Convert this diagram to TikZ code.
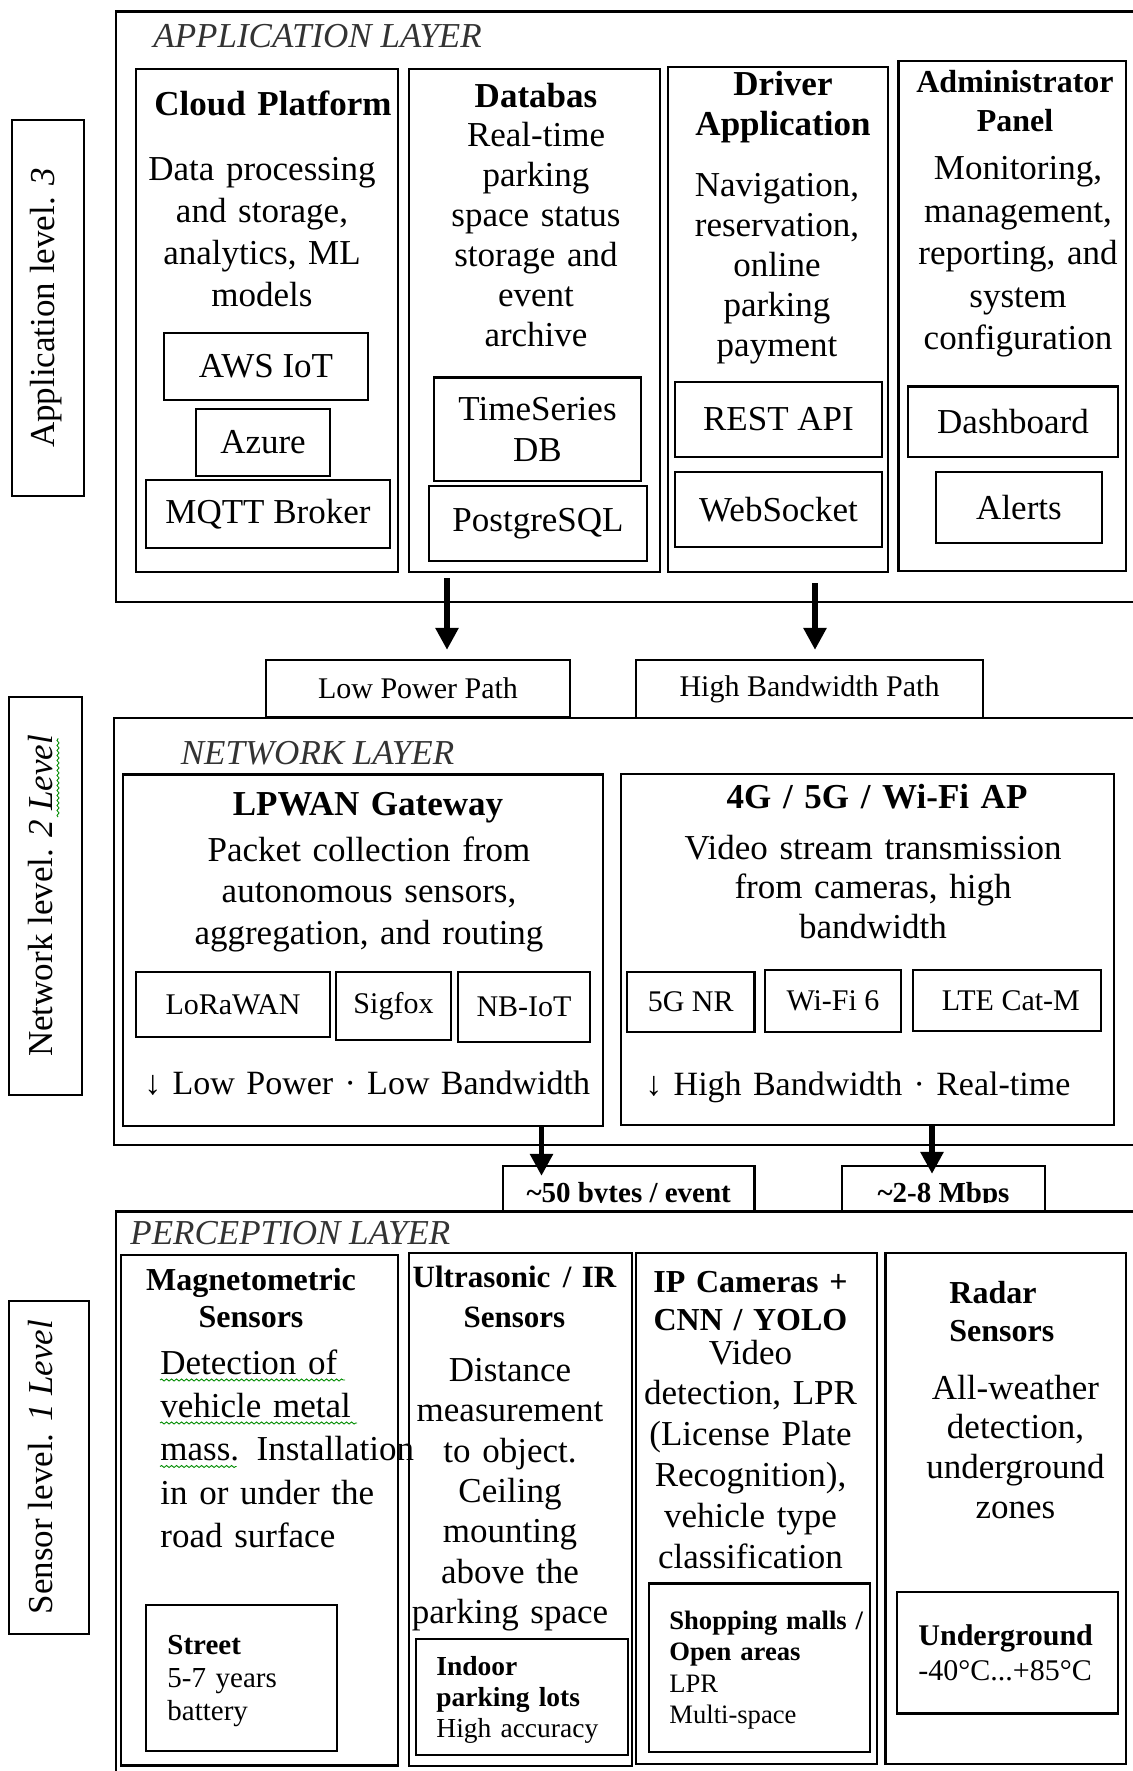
\documentclass[tikz,border=0pt]{standalone}
\usepackage{fontspec}
\setmainfont{Liberation Serif}
\usetikzlibrary{fit,calc,arrows.meta,decorations.pathmorphing}
\begin{document}
\begin{tikzpicture}[x=0.5pt,y=-0.5pt,
  boxst/.style={draw, line width=1.1pt, inner sep=0pt},
  fsz/.style 2 args={font=\fontsize{#1}{#2}\selectfont},
  fszb/.style 2 args={font=\fontsize{#1}{#2}\selectfont\bfseries},
  itxt/.style={inner sep=0pt, anchor=center, fsz={17.5pt}{20.5pt}},
  stxt/.style={inner sep=0pt, anchor=center, fsz={15pt}{17pt}},
  tb/.style={inner sep=0pt, anchor=base, align=center, text width=260pt},
  tl/.style={inner sep=0pt, anchor=base west, align=left, text width=300pt},
  layer/.style={inner sep=0pt, anchor=base west, text=black!80, font=\fontsize{17.5pt}{20pt}\selectfont\itshape},
  lbltxt/.style={inner sep=0pt, fsz={17.5pt}{20pt}},
  bigarr/.style={line width=2.9pt, -{Triangle[width=11pt,length=11pt]}},
  wavy/.style={draw=green!55!black, line width=0.45pt, decorate, decoration={snake, amplitude=0.5pt, segment length=2.5pt}}
]
\useasboundingbox (0,0) rectangle (1132,1771);
\fill[white] (0,0) rectangle (1132,1771);

% ================= APPLICATION LAYER =================
\node[boxst, fit={(116,11.5) (1145,602)}] (applayer) {};
\node[layer] (apptitle) at (153,48) {APPLICATION LAYER};
\node[boxst, fit={(12,120) (84,496)}] (applbl) {};
\node[rotate=90, lbltxt] (applbltxt) at (46,308) {Application level. \textit{3}};

% Cloud platform
\node[boxst, fit={(136,69) (398,572)}] (cloud) {};
\node[tb, fszb={17.5pt}{20pt}] (cloudt) at (273,116) {Cloud Platform};
\node[tb, fsz={17.5pt}{21pt}] (cloudb) at (262,181) {Data processing\\and storage,\\analytics, ML\\models};
\node[boxst, fit={(164,333) (368,400)}] (aws) {};
\node[itxt] (awst) at (aws.center) {AWS IoT};
\node[boxst, fit={(196,409) (330,476)}] (azure) {};
\node[itxt] (azuret) at (azure.center) {Azure};
\node[boxst, fit={(146,480) (390,548)}] (mqtt) {};
\node[itxt] (mqttt) at (mqtt.center) {MQTT Broker};

% Database
\node[boxst, fit={(409,69) (660,572)}] (db) {};
\node[tb, fszb={17.5pt}{20pt}] (dbt) at (536,108) {Databas};
\node[tb, fsz={17.5pt}{20pt}] (dbb) at (536,147) {Real-time\\parking\\space status\\storage and\\event\\archive};
\node[boxst, fit={(434,377.5) (641,481)}] (tsdb) {};
\node[tb, fsz={17.5pt}{20.5pt}] (tsdbt) at (537.5,420) {TimeSeries\\DB};
\node[boxst, fit={(429,486) (647,561)}] (pg) {};
\node[itxt] (pgt) at (pg.center) {PostgreSQL};

% Driver application
\node[boxst, fit={(668,67) (888,572)}] (drv) {};
\node[tb, fszb={17.5pt}{20pt}] (drvt) at (783,96) {Driver\\Application};
\node[tb, fsz={17.5pt}{20pt}] (drvb) at (777,197) {Navigation,\\reservation,\\online\\parking\\payment};
\node[boxst, fit={(675,382) (882,457)}] (rest) {};
\node[itxt] (restt) at (rest.center) {REST API};
\node[boxst, fit={(675,472) (882,547)}] (wsock) {};
\node[itxt] (wsockt) at (wsock.center) {WebSocket};

% Administrator panel
\node[boxst, fit={(898.5,61) (1125.6,571)}] (adm) {};
\node[tb, fszb={16pt}{19.5pt}] (admt) at (1015,93) {Administrator\\Panel};
\node[tb, fsz={17.5pt}{21.25pt}] (admb) at (1018,180) {Monitoring,\\management,\\reporting, and\\system\\configuration};
\node[boxst, fit={(908,386.5) (1118,457)}] (dash) {};
\node[itxt] (dasht) at (dash.center) {Dashboard};
\node[boxst, fit={(936,472) (1102,543)}] (alerts) {};
\node[itxt] (alertst) at (alerts.center) {Alerts};

% ================= PATH LABELS =================
\node[boxst, fit={(266,660) (570,717)}] (lpp) {};
\node[stxt] (lppt) at (lpp.center) {Low Power Path};
\node[boxst, fit={(636,660) (983,718)}] (hbp) {};
\node[stxt] (hbpt) at (hbp.center) {High Bandwidth Path};

% ================= NETWORK LAYER =================
\node[boxst, fit={(114,718) (1145,1145)}] (netlayer) {};
\node[layer] (nettitle) at (180.5,764) {NETWORK LAYER};
\node[boxst, fit={(9,697) (82,1095)}] (netlbl) {};
\node[rotate=90, lbltxt] (netlbltxt) at (41,896) {Network level. \textit{2 Level}};
\draw[wavy] (58,817) -- (58,738);

% LPWAN gateway
\node[boxst, fit={(123,774.5) (603,1125.6)}] (lpwan) {};
\node[tb, fszb={17.5pt}{20pt}] (lpwant) at (368,815) {LPWAN Gateway};
\node[tb, fsz={17.5pt}{20.75pt}] (lpwanb) at (369,861) {Packet collection from\\autonomous sensors,\\aggregation, and routing};
\node[boxst, fit={(136,972) (330,1037)}] (lora) {};
\node[stxt] (lorat) at (lora.center) {LoRaWAN};
\node[boxst, fit={(336,972) (451,1040)}] (sigfox) {};
\node[stxt] (sigfoxt) at (sigfox.center) {Sigfox};
\node[boxst, fit={(458,972) (590,1042)}] (nbiot) {};
\node[stxt] (nbiott) at (nbiot.center) {NB-IoT};
\node[tl, fsz={17pt}{20pt}] (lpwanf) at (144,1094) {↓ Low Power · Low Bandwidth};

% 4G / 5G / Wi-Fi
\node[boxst, fit={(621,774) (1114,1125)}] (gfour) {};
\node[tb, fszb={17.5pt}{20pt}] (gfourt) at (877,808.5) {4G / 5G / Wi-Fi AP};
\node[tb, fsz={17.5pt}{19.75pt}] (gfourb) at (873,859) {Video stream transmission\\from cameras, high\\bandwidth};
\node[boxst, fit={(627,972) (754.5,1032)}] (nr) {};
\node[stxt] (nrt) at (nr.center) {5G NR};
\node[boxst, fit={(765,970) (901,1032)}] (wifi) {};
\node[stxt] (wifit) at (wifi.center) {Wi-Fi 6};
\node[boxst, fit={(912.6,970) (1101,1031)}] (lte) {};
\node[stxt] (ltet) at ($(lte.center)+(4,0)$) {LTE Cat-M};
\node[tl, fsz={17pt}{20pt}] (gfourf) at (645,1095) {↓ High Bandwidth · Real-time};

% ================= RATE LABELS =================
\node[boxst, fit={(503,1166) (754.5,1211.5)}] (rateone) {};
\node[boxst, fit={(842,1166) (1045,1211.5)}] (ratetwo) {};
\begin{scope}
  \clip (503,1166) rectangle (754.5,1202.5);
  \node[inner sep=0pt, anchor=base, fszb={14.5pt}{16pt}] (rateonet) at (628.7,1202) {\textasciitilde 50 bytes / event};
\end{scope}
\begin{scope}
  \clip (842,1166) rectangle (1045,1202.5);
  \node[inner sep=0pt, anchor=base, fszb={14.5pt}{16pt}] (ratetwot) at (943.5,1202) {\textasciitilde 2-8 Mbps};
\end{scope}

% ================= ARROWS =================
\coordinate (axa) at (447,0);
\coordinate (axb) at (815,0);
\coordinate (axc) at (541.5,0);
\coordinate (axd) at (932,0);
\draw[bigarr] ($(db.south -| axa)+(0,5)$) -- ($(lpp.north -| axa)+(0,-9)$);
\draw[bigarr] ($(drv.south -| axb)+(0,10)$) -- ($(hbp.north -| axb)+(0,-9)$);
\draw[bigarr] (lpwan.south -| axc) -- ($(rateone.north -| axc)+(0,11)$);
\draw[bigarr] (gfour.south -| axd) -- ($(ratetwo.north -| axd)+(0,9)$);

% ================= PERCEPTION LAYER =================
\node[boxst, fit={(116,1211.5) (1145,1790)}] (perclayer) {};
\node[layer] (perctitle) at (130,1244) {PERCEPTION LAYER};
\node[boxst, fit={(9,1301) (89,1634)}] (senlbl) {};
\node[rotate=90, lbltxt] (senlbltxt) at (41,1467) {Sensor level. \textit{1 Level}};

% Magnetometric
\node[boxst, fit={(121,1255) (398,1765.4)}] (mag) {};
\node[tb, fszb={16pt}{18.5pt}] (magt) at (251,1290) {Magnetometric\\Sensors};
\node[tl, fsz={17.5pt}{21.7pt}] (magb) at (160,1374) {Detection of\\vehicle metal\\mass. Installation\\in or under the\\road surface};
\draw[wavy] (160,1380) -- (345,1380);
\draw[wavy] (160,1423) -- (357,1423);
\draw[wavy] (160,1466.5) -- (236.5,1466.5);
\node[boxst, fit={(146,1605) (337,1751)}] (street) {};
\node[tl, fsz={14.5pt}{16.5pt}] (streett) at (167,1654) {\textbf{Street}\\5-7 years\\battery};

% Ultrasonic
\node[boxst, fit={(409,1252.7) (631.7,1766)}] (ultra) {};
\node[tb, fszb={15.5pt}{20pt}] (ultrat) at (514.5,1287) {Ultrasonic\hspace{0.4em}/ IR\\Sensors};
\node[tb, fsz={17.5pt}{20.15pt}] (ultrab) at (510,1381.5) {Distance\\measurement\\to object.\\Ceiling\\mounting\\above the\\parking space};
\node[boxst, fit={(415.7,1639) (628,1755)}] (indoor) {};
\node[tl, fsz={13.75pt}{15.5pt}] (indoort) at (436,1675) {\textbf{Indoor}\\\textbf{parking lots}\\High accuracy};

% IP cameras
\node[boxst, fit={(635.7,1253) (877,1764)}] (ipcam) {};
\node[tb, fszb={16pt}{19pt}] (ipcamt) at (750.5,1292) {IP Cameras +\\CNN / YOLO};
\node[tb, fsz={17.5pt}{20.4pt}] (ipcamb) at (750.5,1364) {Video\\detection, LPR\\(License Plate\\Recognition),\\vehicle type\\classification};
\node[boxst, fit={(649,1583.5) (870,1752)}] (shop) {};
\node[tl, fsz={13.3pt}{15.75pt}] (shopt) at (669,1629) {\textbf{Shopping malls /}\\\textbf{Open areas}\\LPR\\Multi-space};

% Radar
\node[boxst, fit={(885.5,1253) (1125.6,1764)}] (radar) {};
\node[tl, fszb={16pt}{19pt}] (radart) at (949,1303) {Radar\\Sensors};
\node[tb, fsz={17.5pt}{19.85pt}] (radarb) at (1015.5,1399) {All-weather\\detection,\\underground\\zones};
\node[boxst, fit={(897,1592) (1118,1713.5)}] (ug) {};
\node[tl, fsz={15pt}{17.5pt}] (ugt) at (918,1645.7) {\textbf{Underground}\\-40°C...+85°C};
\end{tikzpicture}
\end{document}
